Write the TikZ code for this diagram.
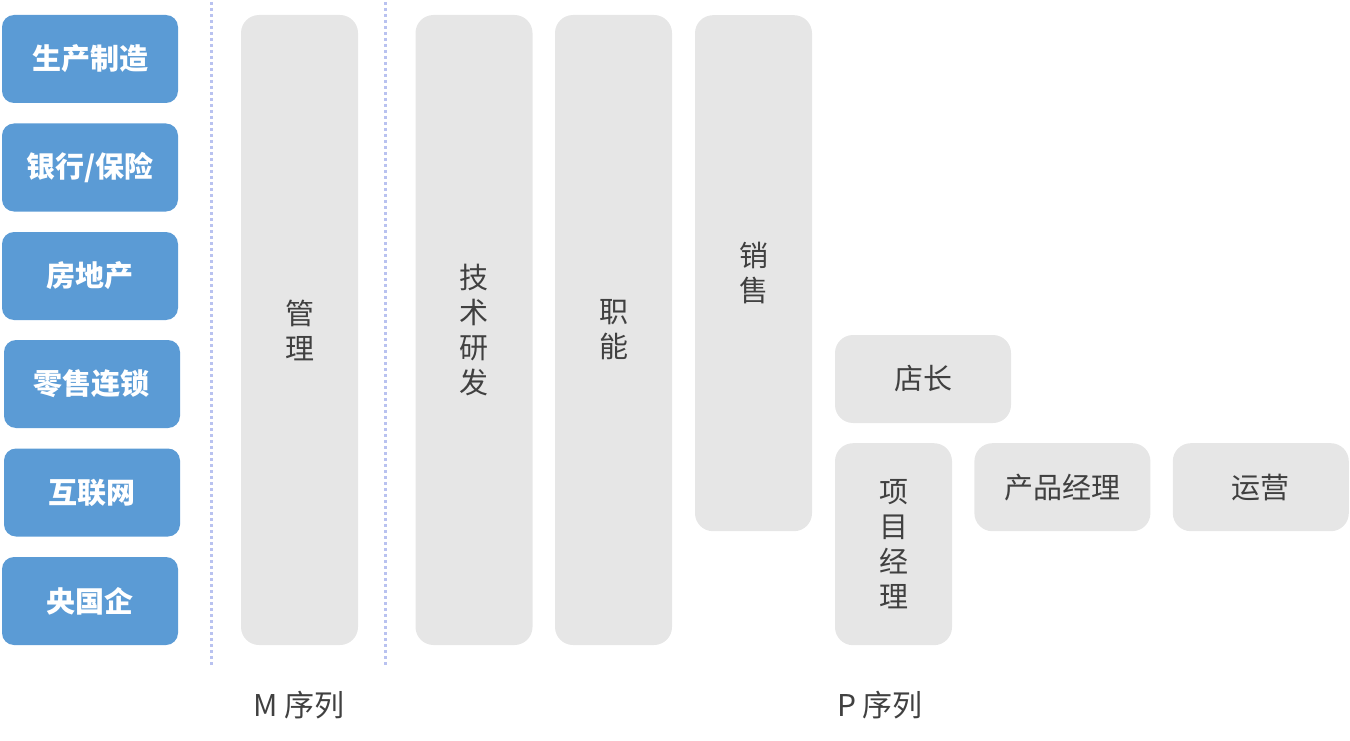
\documentclass[tikz,border=0pt]{standalone}
\usepackage{fontspec}
\setmainfont{Noto Sans CJK SC}
\usepackage{xcolor}
\usetikzlibrary{positioning}
\definecolor{indc}{RGB}{91,155,213}
\definecolor{seqc}{RGB}{230,230,230}
\definecolor{txtc}{RGB}{64,64,64}
\definecolor{sepc}{RGB}{185,194,240}

\begin{document}
\begin{tikzpicture}[
  x=1pt, y=-1pt,
  industry/.style={fill=indc, rounded corners=12pt, minimum width=176pt, minimum height=88pt,
                   inner sep=0pt, text=white, font=\fontsize{29}{34}\selectfont\bfseries},
  seq/.style={fill=seqc, rounded corners=18pt, minimum width=117pt, inner sep=0pt,
              text=txtc, align=center, font=\fontsize{29}{35}\selectfont},
  wide/.style={seq, minimum width=176pt, minimum height=88pt},
  sep/.style={draw=sepc, line width=3pt, dash pattern=on 3pt off 3pt},
  lbl/.style={text=txtc, inner sep=0pt, font=\fontsize{30}{34}\selectfont},
]
\useasboundingbox (0,0) rectangle (1350,741);
% industries (left column)
\foreach \yy/\xx/\nm/\lab in {59/90/i1/生产制造, 167.5/90/i2/{银行/保险}, 276/90/i3/房地产,
                               384/92/i4/零售连锁, 492.5/92/i5/互联网, 601/90/i6/央国企}
  \node[industry] (\nm) at (\xx,\yy) {\lab};
% separators
\coordinate (s1t) at (211,2);   \coordinate (s1b) at (211,667);
\coordinate (s2t) at (385,2);   \coordinate (s2b) at (385,667);
\draw[sep] (s1t) -- (s1b);
\draw[sep] (s2t) -- (s2b);
% M sequence
\node[seq, minimum height=630pt] (mgmt) at (299.5,330) {管\\理};
% P sequence
\node[seq, minimum height=630pt] (tech) at (474,330) {技\\术\\研\\发};
\node[seq, minimum height=630pt] (func) at (613.5,330) {职\\能};
\node[seq, minimum height=516pt, anchor=north] (sale) at (753.5,15) {销\\售};
\node[wide] (shop) at (923,379) {店长};
\node[seq, minimum height=202pt, anchor=north] (proj) at (893.5,443) {项\\目\\经\\理};
\node[wide, right=22pt of proj.north east, anchor=north west] (prod) {产品经理};
\node[wide, right=22pt of prod] (oper) {运营};
% series labels
\node[lbl] (mlab) at (299,705) {M 序列};
\node[lbl] (plab) at (880,705) {P 序列};
\end{tikzpicture}
\end{document}
